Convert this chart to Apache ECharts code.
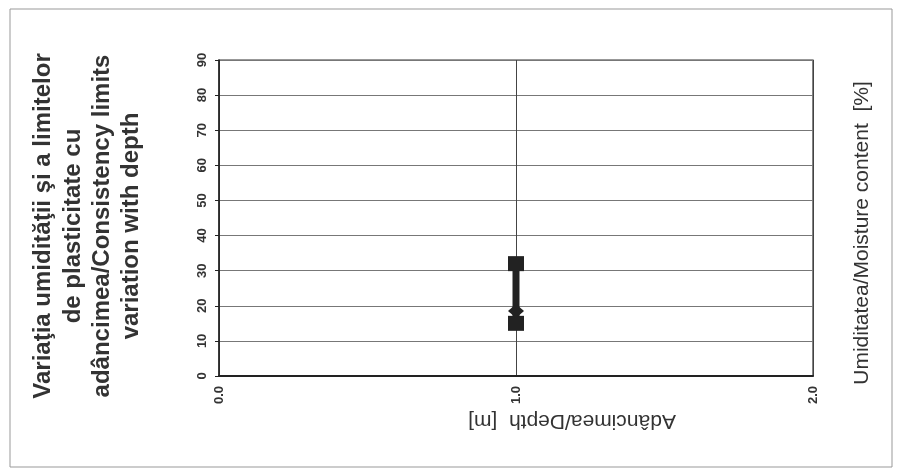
<!DOCTYPE html>
<html>
<head>
<meta charset="utf-8">
<script src="https://cdn.jsdelivr.net/npm/echarts@6/dist/echarts.min.js"></script>
<style>
html,body{margin:0;padding:0;background:#fff;}
#c{width:899px;height:473px;}
</style>
</head>
<body>
<div id="c"></div>
<script>
var depthTicks = [0, 1, 2];
var moistureTicks = [0, 10, 20, 30, 40, 50, 60, 70, 80, 90];
var limitsDepth = [1.0, 1.0];
var limitsValues = [32, 15];
var moistureDepth = [1.0];
var moistureValues = [18.5];
var titleLines = ['Variaţia umidităţii şi a limitelor', 'de plasticitate cu', 'adâncimea/Consistency limits', 'variation with depth'];
var xName = 'Adâncimea/Depth  [m]';
var yName = 'Umiditatea/Moisture content  [%]';

var chart = echarts.init(document.getElementById('c'));
var lineX = [43, 73, 102, 131];
var graphics = titleLines.map(function (t, i) {
  return {
    type: 'text', x: lineX[i], y: 226, rotation: Math.PI / 2,
    style: { text: t, font: 'bold 24px "Liberation Sans", Arial, sans-serif', fill: '#333', align: 'center', verticalAlign: 'middle' }
  };
});
graphics.push({
  type: 'text', x: 862, y: 233, rotation: Math.PI / 2,
  style: { text: yName, font: '21px "Liberation Sans", Arial, sans-serif', fill: '#333', align: 'center', verticalAlign: 'middle' }
});
graphics.push({
  type: 'text', x: 572, y: 421, rotation: Math.PI,
  style: { text: xName, font: '21px "Liberation Sans", Arial, sans-serif', fill: '#333', align: 'center', verticalAlign: 'middle' }
});
graphics.push({
  type: 'rect', shape: { x: 10, y: 9, width: 882, height: 458 },
  style: { fill: 'none', stroke: '#999', lineWidth: 1 }
});

chart.setOption({
  animation: false,
  backgroundColor: '#fff',
  grid: { left: 219, right: 86, top: 60, bottom: 97, show: true, borderColor: '#333', borderWidth: 1.2, backgroundColor: 'transparent' },
  xAxis: {
    type: 'value', min: depthTicks[0], max: depthTicks[depthTicks.length - 1], interval: 1,
    axisLine: { show: true, lineStyle: { color: '#222', width: 2 } },
    axisTick: { show: false },
    splitLine: { show: true, lineStyle: { color: '#444', width: 1 } },
    axisLabel: { rotate: 90, margin: 10, color: '#333', fontSize: 13, fontWeight: 'bold', fontFamily: '"Liberation Sans", Arial, sans-serif',
      formatter: function (v) { return v.toFixed(1); } }
  },
  yAxis: {
    type: 'value', min: moistureTicks[0], max: moistureTicks[moistureTicks.length - 1], interval: 10,
    axisLine: { show: true, lineStyle: { color: '#222', width: 1.5 } },
    axisTick: { show: true, length: 4, lineStyle: { color: '#222' } },
    splitLine: { show: true, lineStyle: { color: '#777', width: 1 } },
    axisLabel: { rotate: 90, margin: 10, color: '#333', fontSize: 13, fontWeight: 'bold', fontFamily: '"Liberation Sans", Arial, sans-serif' }
  },
  graphic: graphics,
  series: [
    {
      type: 'line',
      data: limitsDepth.map(function (d, i) { return [d, limitsValues[i]]; }),
      lineStyle: { color: '#222', width: 7 },
      symbol: 'rect', symbolSize: [16, 15],
      itemStyle: { color: '#222', opacity: 1 },
      z: 3
    },
    {
      type: 'scatter',
      data: moistureDepth.map(function (d, i) { return [d, moistureValues[i]]; }),
      symbol: 'diamond', symbolSize: [16, 14],
      itemStyle: { color: '#222', opacity: 1 },
      z: 4
    }
  ]
});
</script>
</body>
</html>
